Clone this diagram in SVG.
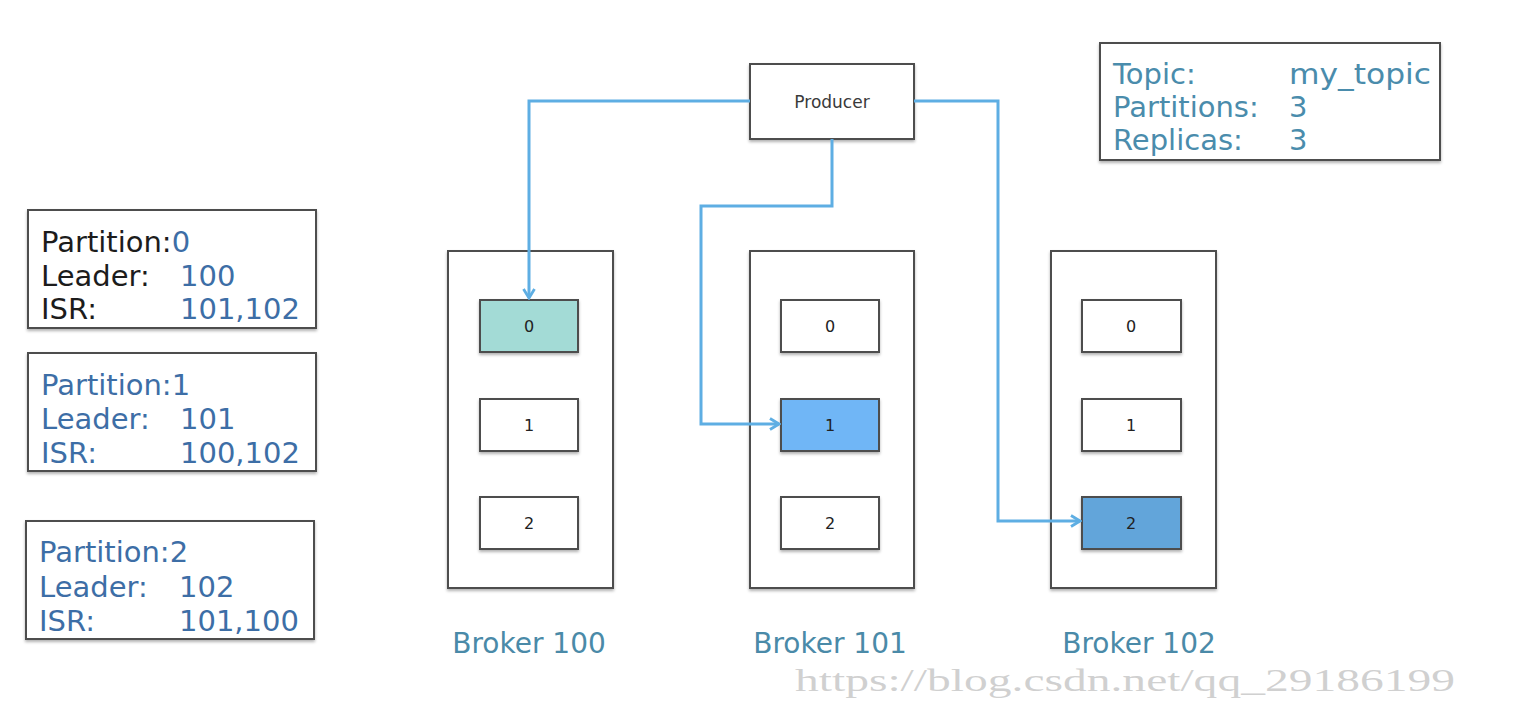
<svg xmlns="http://www.w3.org/2000/svg" width="1526" height="708" viewBox="0 0 1526 708">
<defs>
<filter id="sh" x="-10%" y="-10%" width="120%" height="125%">
<feDropShadow dx="0" dy="2" stdDeviation="1.5" flood-color="#000" flood-opacity="0.3"/>
</filter>
<marker id="arr" viewBox="0 0 14 14" refX="12" refY="7" markerWidth="14" markerHeight="14" markerUnits="userSpaceOnUse" orient="auto">
<path d="M3,1.5 L12,7 L3,12.5" fill="none" stroke="#5eaee3" stroke-width="2.8"/>
</marker>
<style>
.box{fill:#fff;stroke:#4d4d4d;stroke-width:2;filter:url(#sh)}
.t{font-family:"DejaVu Sans","Noto Sans",sans-serif;font-size:29px}
.k{fill:#1c1c1c}
.b{fill:#3d6ea6}
.tp{fill:#4a8cac}
.sm{font-family:"DejaVu Sans","Noto Sans",sans-serif;font-size:16px;fill:#222;text-anchor:middle}
.pr{font-size:17px;fill:#3a3a3a}
.bl{font-family:"DejaVu Sans","Noto Sans",sans-serif;font-size:28px;fill:#4a8aa8;text-anchor:middle}
.c{fill:none;stroke:#5eaee3;stroke-width:3}
</style>
</defs>
<rect width="1526" height="708" fill="#fff"/>

<g id="info0">
<rect class="box" x="28" y="210" width="288" height="118"/>
<text class="t k" x="41" y="252">Partition:<tspan class="b">0</tspan></text>
<text class="t k" x="41" y="286">Leader:</text>
<text class="t b" x="180" y="286">100</text>
<text class="t k" x="41" y="319">ISR:</text>
<text class="t b" x="180" y="319">101,102</text>
</g>
<g id="info1">
<rect class="box" x="28" y="353" width="288" height="118"/>
<text class="t b" x="41" y="395">Partition:1</text>
<text class="t b" x="41" y="429">Leader:</text>
<text class="t b" x="180" y="429">101</text>
<text class="t b" x="41" y="463">ISR:</text>
<text class="t b" x="180" y="463">100,102</text>
</g>
<g id="info2">
<rect class="box" x="26" y="521" width="288" height="118"/>
<text class="t b" x="39" y="562">Partition:2</text>
<text class="t b" x="39" y="597">Leader:</text>
<text class="t b" x="179" y="597">102</text>
<text class="t b" x="39" y="631">ISR:</text>
<text class="t b" x="179" y="631">101,100</text>
</g>

<g id="topic">
<rect class="box" x="1100" y="43" width="340" height="117"/>
<text class="t tp" x="1113" y="84">Topic:</text>
<text class="t tp" x="1289" y="84" textLength="142" lengthAdjust="spacingAndGlyphs">my_topic</text>
<text class="t tp" x="1113" y="117">Partitions:</text>
<text class="t tp" x="1289" y="117">3</text>
<text class="t tp" x="1113" y="150">Replicas:</text>
<text class="t tp" x="1289" y="150">3</text>
</g>

<g id="producer">
<rect class="box" x="750" y="64" width="164" height="75"/>
<text class="sm pr" x="832" y="108">Producer</text>
</g>

<g id="broker100">
<rect class="box" x="448" y="251" width="165" height="337"/>
<rect class="box" x="480" y="300" width="98" height="52" style="fill:#a3dbd6"/>
<text class="sm" x="529" y="332">0</text>
<rect class="box" x="480" y="399" width="98" height="52"/>
<text class="sm" x="529" y="431">1</text>
<rect class="box" x="480" y="497" width="98" height="52"/>
<text class="sm" x="529" y="529">2</text>
<text class="bl" x="529" y="653">Broker 100</text>
</g>
<g id="broker101">
<rect class="box" x="750" y="251" width="164" height="337"/>
<rect class="box" x="781" y="300" width="98" height="52"/>
<text class="sm" x="830" y="332">0</text>
<rect class="box" x="781" y="399" width="98" height="52" style="fill:#6fb6f6"/>
<text class="sm" x="830" y="431">1</text>
<rect class="box" x="781" y="497" width="98" height="52"/>
<text class="sm" x="830" y="529">2</text>
<text class="bl" x="830" y="653">Broker 101</text>
</g>
<g id="broker102">
<rect class="box" x="1051" y="251" width="165" height="337"/>
<rect class="box" x="1082" y="300" width="99" height="52"/>
<text class="sm" x="1131" y="332">0</text>
<rect class="box" x="1082" y="399" width="99" height="52"/>
<text class="sm" x="1131" y="431">1</text>
<rect class="box" x="1082" y="497" width="99" height="52" style="fill:#62a5da"/>
<text class="sm" x="1131" y="529">2</text>
<text class="bl" x="1139" y="653">Broker 102</text>
</g>

<g id="connectors">
<path class="c" d="M750,101 H529 V298" marker-end="url(#arr)"/>
<path class="c" d="M832,139 V206 H701 V424 H779" marker-end="url(#arr)"/>
<path class="c" d="M914,101 H998 V521 H1080" marker-end="url(#arr)"/>
</g>

<text x="795" y="691" font-family="Liberation Serif, serif" font-size="31" fill="#c8c8c8" fill-opacity="0.85" textLength="660" lengthAdjust="spacingAndGlyphs">https://blog.csdn.net/qq_29186199</text>
</svg>
